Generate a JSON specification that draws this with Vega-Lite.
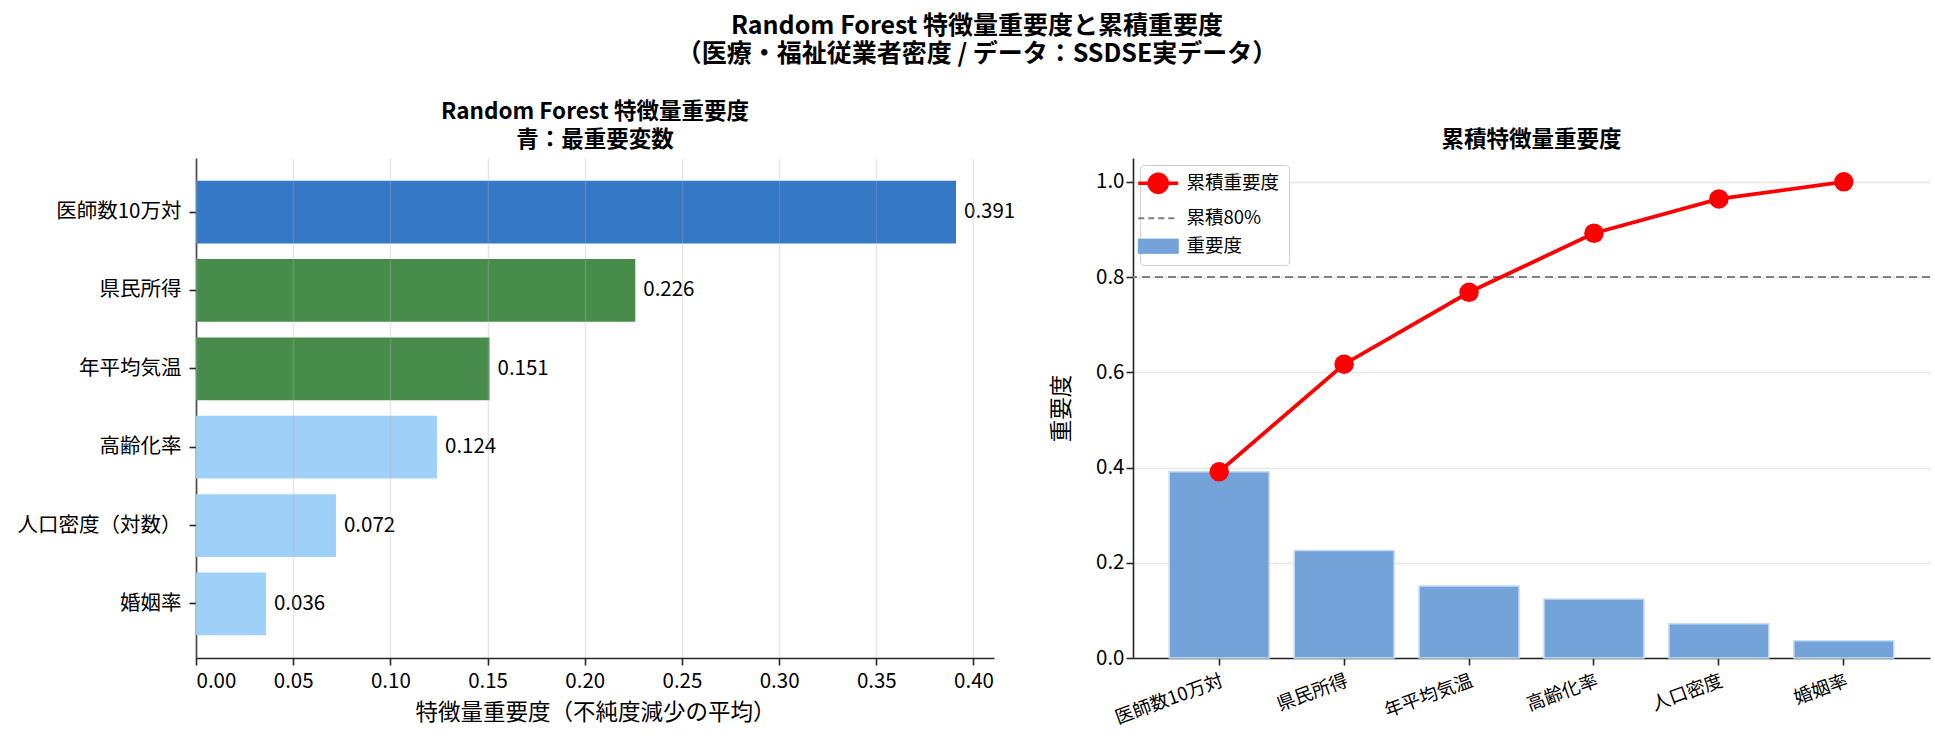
{
  "$schema": "https://vega.github.io/schema/vega-lite/v6.json",
  "description": "Random Forest feature importance and cumulative importance",
  "background": "white",
  "padding": {"left": 17, "top": 13, "right": 15, "bottom": 10},
  "config": {
    "font": "Noto Sans CJK JP",
    "view": {"stroke": null},
    "axis": {
      "domainColor": "#262626",
      "domainWidth": 1.6,
      "tickColor": "#262626",
      "tickWidth": 1.6,
      "tickSize": 7,
      "labelColor": "#000000",
      "labelFontSize": 20.5,
      "titleColor": "#000000",
      "titleFontSize": 22.5,
      "titleFontWeight": "normal",
      "gridColor": "#b0b0b0",
      "gridOpacity": 0.3,
      "gridWidth": 1.5
    },
    "legend": {
      "title": null,
      "orient": "top-left",
      "offset": 7,
      "padding": 9,
      "fillColor": "#ffffff",
      "strokeColor": "#d0d0d0",
      "cornerRadius": 4,
      "labelFontSize": 18.5,
      "labelColor": "#000000",
      "labelOffset": 19,
      "symbolSize": 1600,
      "rowPadding": 9
    },
    "title": {"fontWeight": "bold", "color": "#000000"}
  },
  "datasets": {
    "imp": [
      {"feature": "医師数10万対", "short": "医師数10万対", "importance": 0.391, "cumulative": 0.391},
      {"feature": "県民所得", "short": "県民所得", "importance": 0.226, "cumulative": 0.617},
      {"feature": "年平均気温", "short": "年平均気温", "importance": 0.151, "cumulative": 0.768},
      {"feature": "高齢化率", "short": "高齢化率", "importance": 0.124, "cumulative": 0.892},
      {"feature": "人口密度（対数）", "short": "人口密度", "importance": 0.072, "cumulative": 0.964},
      {"feature": "婚姻率", "short": "婚姻率", "importance": 0.036, "cumulative": 1.0}
    ]
  },
  "title": {
    "text": ["Random Forest 特徴量重要度と累積重要度", "（医療・福祉従業者密度 / データ：SSDSE実データ）"],
    "fontSize": 25,
    "lineHeight": 28,
    "anchor": "middle",
    "dx": 3,
    "offset": 34
  },
  "resolve": {"scale": {"color": "independent"}, "legend": {"color": "independent"}},
  "bounds": "flush",
  "spacing": 139,
  "hconcat": [
    {
      "width": 798,
      "height": 500,
      "title": {
        "text": ["Random Forest 特徴量重要度", "青：最重要変数"],
        "fontSize": 22.5,
        "lineHeight": 28,
        "baseline": "bottom",
        "offset": -16
      },
      "data": {"name": "imp"},
      "encoding": {
        "y": {
          "field": "feature",
          "type": "nominal",
          "sort": null,
          "scale": {"paddingInner": 0.2, "paddingOuter": 0.29},
          "axis": {"title": null, "labelPadding": 8}
        },
        "x": {
          "field": "importance",
          "type": "quantitative",
          "scale": {"domain": [0, 0.41055], "nice": false},
          "axis": {
            "title": "特徴量重要度（不純度減少の平均）",
            "values": [0, 0.05, 0.1, 0.15, 0.2, 0.25, 0.3, 0.35, 0.4],
            "format": ".2f",
            "grid": true,
            "zindex": 1,
            "labelPadding": 6,
            "titlePadding": 10
          }
        }
      },
      "layer": [
        {
          "mark": {"type": "bar"},
          "encoding": {
            "color": {
              "field": "feature",
              "type": "nominal",
              "scale": {
                "domain": ["医師数10万対", "県民所得", "年平均気温", "高齢化率", "人口密度（対数）", "婚姻率"],
                "range": ["#3478c6", "#488c4c", "#488c4c", "#9fd0f7", "#9fd0f7", "#9fd0f7"]
              },
              "legend": null
            }
          }
        },
        {
          "mark": {"type": "text", "align": "left", "baseline": "middle", "dx": 8, "fontSize": 20.5, "color": "#000000"},
          "encoding": {
            "text": {"field": "importance", "type": "quantitative", "format": ".3f"}
          }
        }
      ]
    },
    {
      "width": 797,
      "height": 500,
      "title": {
        "text": "累積特徴量重要度",
        "fontSize": 22.5,
        "baseline": "bottom",
        "offset": -16
      },
      "data": {"name": "imp"},
      "layer": [
        {
          "mark": {"type": "bar", "stroke": "#c6dbf4", "strokeWidth": 1.5},
          "encoding": {
            "x": {
              "field": "short",
              "type": "nominal",
              "sort": null,
              "scale": {"paddingInner": 0.2, "paddingOuter": 0.29},
              "axis": {
                "title": null,
                "labelAngle": -20,
                "labelAlign": "right",
                "labelBaseline": "top",
                "labelFontSize": 18.5,
                "labelPadding": 6
              }
            },
            "y": {
              "field": "importance",
              "type": "quantitative",
              "scale": {"domain": [0, 1.05], "nice": false},
              "axis": {
                "title": "重要度",
                "values": [0, 0.2, 0.4, 0.6, 0.8, 1.0],
                "format": ".1f",
                "grid": true,
                "titlePadding": 22
              }
            },
            "color": {
              "datum": "重要度",
              "scale": {
                "domain": ["累積重要度", "累積80%", "重要度"],
                "range": ["#ff0000", "#808080", "#74a3d9"]
              },
              "legend": {
                "encode": {
                  "symbols": {
                    "update": {
                      "shape": {"signal": "datum.value === '累積重要度' ? 'M-1,0L1,0M0.45,0A0.45,0.45,0,1,1,-0.45,0A0.45,0.45,0,1,1,0.45,0Z' : datum.value === '累積80%' ? 'M-1,0L1,0' : 'M-1,-0.36L1,-0.36L1,0.36L-1,0.36Z'"},
                      "fill": {"signal": "datum.value === '累積重要度' ? '#ff0000' : datum.value === '累積80%' ? 'transparent' : '#74a3d9'"},
                      "stroke": {"signal": "datum.value === '累積重要度' ? '#ff0000' : datum.value === '累積80%' ? '#808080' : '#c6dbf4'"},
                      "strokeWidth": {"signal": "datum.value === '累積重要度' ? 3.5 : datum.value === '累積80%' ? 2 : 1"},
                      "strokeDash": {"signal": "datum.value === '累積80%' ? [6, 4] : [1, 0]"},
                      "opacity": {"value": 1}
                    }
                  }
                }
              }
            }
          }
        },
        {
          "data": {"values": [{"threshold": 0.8}]},
          "mark": {"type": "rule", "strokeDash": [8, 5], "strokeWidth": 2},
          "encoding": {
            "y": {"field": "threshold", "type": "quantitative", "axis": {"title": "重要度"}},
            "color": {
              "datum": "累積80%",
              "legend": {
                "encode": {
                  "symbols": {
                    "update": {
                      "shape": {"signal": "datum.value === '累積重要度' ? 'M-1,0L1,0M0.45,0A0.45,0.45,0,1,1,-0.45,0A0.45,0.45,0,1,1,0.45,0Z' : datum.value === '累積80%' ? 'M-1,0L1,0' : 'M-1,-0.36L1,-0.36L1,0.36L-1,0.36Z'"},
                      "fill": {"signal": "datum.value === '累積重要度' ? '#ff0000' : datum.value === '累積80%' ? 'transparent' : '#74a3d9'"},
                      "stroke": {"signal": "datum.value === '累積重要度' ? '#ff0000' : datum.value === '累積80%' ? '#808080' : '#c6dbf4'"},
                      "strokeWidth": {"signal": "datum.value === '累積重要度' ? 3.5 : datum.value === '累積80%' ? 2 : 1"},
                      "strokeDash": {"signal": "datum.value === '累積80%' ? [6, 4] : [1, 0]"},
                      "opacity": {"value": 1}
                    }
                  }
                }
              }
            }
          }
        },
        {
          "mark": {"type": "line", "strokeWidth": 3.8, "point": {"filled": true, "size": 380, "opacity": 1}},
          "encoding": {
            "x": {"field": "short", "type": "nominal", "sort": null},
            "y": {"field": "cumulative", "type": "quantitative", "axis": {"title": "重要度"}},
            "color": {
              "datum": "累積重要度",
              "legend": {
                "encode": {
                  "symbols": {
                    "update": {
                      "shape": {"signal": "datum.value === '累積重要度' ? 'M-1,0L1,0M0.45,0A0.45,0.45,0,1,1,-0.45,0A0.45,0.45,0,1,1,0.45,0Z' : datum.value === '累積80%' ? 'M-1,0L1,0' : 'M-1,-0.36L1,-0.36L1,0.36L-1,0.36Z'"},
                      "fill": {"signal": "datum.value === '累積重要度' ? '#ff0000' : datum.value === '累積80%' ? 'transparent' : '#74a3d9'"},
                      "stroke": {"signal": "datum.value === '累積重要度' ? '#ff0000' : datum.value === '累積80%' ? '#808080' : '#c6dbf4'"},
                      "strokeWidth": {"signal": "datum.value === '累積重要度' ? 3.5 : datum.value === '累積80%' ? 2 : 1"},
                      "strokeDash": {"signal": "datum.value === '累積80%' ? [6, 4] : [1, 0]"},
                      "opacity": {"value": 1}
                    }
                  }
                }
              }
            }
          }
        }
      ]
    }
  ]
}
